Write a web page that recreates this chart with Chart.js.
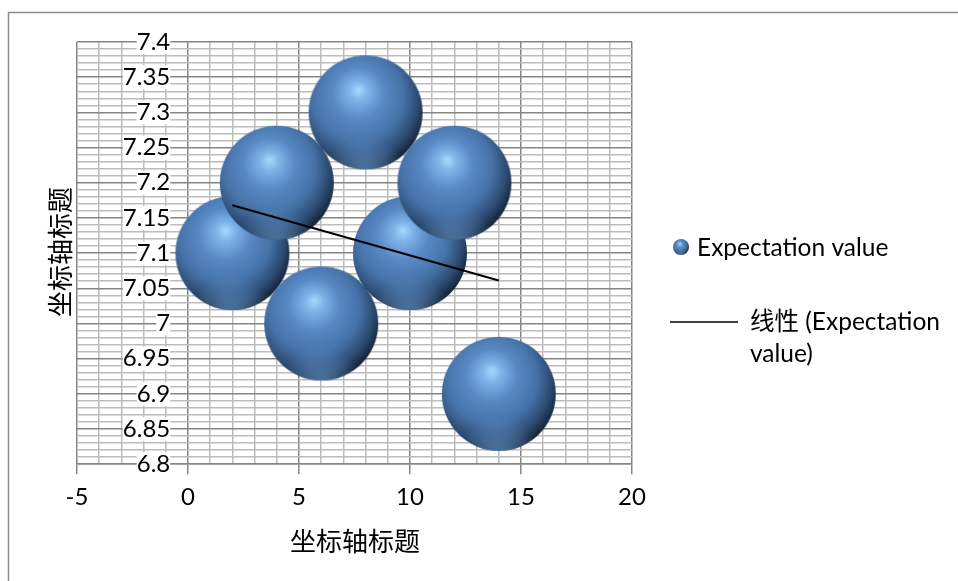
<!DOCTYPE html>
<html>
<head>
<meta charset="utf-8">
<script src="https://cdn.jsdelivr.net/npm/chart.js@4"></script>
<style>
  html, body { margin: 0; padding: 0; background: #fff; }
  #wrap { width: 958px; height: 581px; }
</style>
</head>
<body>
<div id="wrap"><canvas id="c" width="958" height="581"></canvas></div>
<script>
// Series data
const seriesName = 'Expectation value';
const trendLabel = ['线性 (Expectation', 'value)'];
const axisTitle = '坐标轴标题';
const xValues = [2, 4, 6, 8, 10, 12, 14];
const yValues = [7.1, 7.2, 7.0, 7.3, 7.1, 7.2, 6.9];
const bubbleSizes = [1, 1, 1, 1, 1, 1, 1];
// Linear trendline end points
const trendX = [2, 14];
const trendY = [7.168, 7.061];
// Axis tick labels (major ticks only)
const xTickLabels = ['-5', '0', '5', '10', '15', '20'];
const yTickLabels = ['6.8', '6.85', '6.9', '6.95', '7', '7.05', '7.1', '7.15', '7.2', '7.25', '7.3', '7.35', '7.4'];

const TEXT_FONT = "Lato, 'Noto Sans CJK SC', sans-serif";
const CJK_FONT = "'Noto Sans CJK SC', sans-serif";
const BUBBLE_R = 57;

// Big bubbles may overlap the plot edge; keep them from growing the layout padding
Chart.BubbleController.prototype.getMaxOverflow = function () { return 0; };

// Shaded sphere used as the bubble marker
function makeSphere(R) {
  const size = Math.ceil(R * 2 + 2);
  const cv = document.createElement('canvas');
  cv.width = cv.height = size;
  const g = cv.getContext('2d');
  const c = size / 2;
  g.beginPath();
  g.arc(c, c, R, 0, Math.PI * 2);
  g.closePath();
  const grad = g.createRadialGradient(c - 0.12 * R, c - 0.4 * R, 0, c - 0.15 * R, c - 0.2 * R, 1.3 * R);
  grad.addColorStop(0, '#a9dafd');
  grad.addColorStop(0.12, '#80b6ea');
  grad.addColorStop(0.35, '#5889c4');
  grad.addColorStop(0.62, '#4672a8');
  grad.addColorStop(0.82, '#2c4a70');
  grad.addColorStop(1, '#0d1825');
  g.fillStyle = grad;
  g.fill();
  // soft reflected light along the lower rim
  g.save();
  g.clip();
  const rim = g.createRadialGradient(c, c + 1.15 * R, 0.2 * R, c, c + 1.15 * R, 0.75 * R);
  rim.addColorStop(0, 'rgba(110,160,215,0.55)');
  rim.addColorStop(1, 'rgba(110,160,215,0)');
  g.fillStyle = rim;
  g.fillRect(0, 0, size, size);
  g.restore();
  return cv;
}

const sphere = makeSphere(BUBBLE_R);
const legendSphere = makeSphere(8);

const isMajorX = v => Math.abs(Math.round(v) % 5) === 0;
const yIndex = v => Math.round((v - 6.8) * 100);
const isMajorY = v => yIndex(v) % 5 === 0;

const bubbleData = xValues.map((x, i) => ({ x, y: yValues[i], r: bubbleSizes[i] * BUBBLE_R }));
const trendData = trendX.map((x, i) => ({ x, y: trendY[i] }));

// Frame, axis titles and legend
const decorations = {
  id: 'decorations',
  beforeDraw(chart) {
    const ctx = chart.ctx;
    ctx.save();
    ctx.fillStyle = '#ffffff';
    ctx.fillRect(0, 0, chart.width, chart.height);
    ctx.strokeStyle = '#8c8c8c';
    ctx.lineWidth = 1.5;
    ctx.strokeRect(8.5, 12.5, 1200, 1200);
    ctx.restore();
  },
  afterDraw(chart) {
    const ctx = chart.ctx;
    ctx.save();
    ctx.fillStyle = '#000';
    ctx.textBaseline = 'middle';
    // axis titles
    ctx.font = '26px ' + CJK_FONT;
    ctx.textAlign = 'center';
    ctx.fillText(axisTitle, 355, 541);
    ctx.save();
    ctx.translate(60, 252);
    ctx.rotate(-Math.PI / 2);
    ctx.fillText(axisTitle, 0, 0);
    ctx.restore();
    // legend
    ctx.textAlign = 'left';
    ctx.font = '24.5px ' + TEXT_FONT;
    ctx.drawImage(legendSphere, 681 - legendSphere.width / 2, 247 - legendSphere.height / 2);
    ctx.fillText(seriesName, 697, 248);
    ctx.strokeStyle = '#000';
    ctx.lineWidth = 1.5;
    ctx.beginPath();
    ctx.moveTo(670, 322);
    ctx.lineTo(738, 322);
    ctx.stroke();
    ctx.fillText(trendLabel[0], 750, 322);
    ctx.fillText(trendLabel[1], 750, 354);
    ctx.restore();
  }
};

new Chart(document.getElementById('c'), {
  data: {
    datasets: [
      {
        type: 'line',
        label: trendLabel.join(' '),
        data: trendData,
        borderColor: '#000',
        borderWidth: 2,
        pointRadius: 0,
        fill: false,
        order: 0
      },
      {
        type: 'bubble',
        label: seriesName,
        data: bubbleData,
        pointStyle: sphere,
        backgroundColor: '#4f81bd',
        borderWidth: 0,
        order: 1
      }
    ]
  },
  options: {
    responsive: false,
    animation: false,
    events: [],
    layout: { padding: { left: 77, right: 326, top: 42, bottom: 60 } },
    plugins: {
      legend: { display: false },
      tooltip: { enabled: false },
      title: { display: false }
    },
    scales: {
      x: {
        type: 'linear',
        position: 'bottom',
        min: -5,
        max: 20,
        grid: {
          color: c => isMajorX(c.tick.value) ? '#858585' : '#bcbcbc',
          lineWidth: 1.5,
          drawTicks: true,
          tickLength: 10,
          tickColor: c => isMajorX(c.tick.value) ? '#868686' : 'rgba(0,0,0,0)',
          tickWidth: 1.5
        },
        border: { display: true, color: '#868686', width: 1.5 },
        ticks: {
          stepSize: 1,
          autoSkip: false,
          maxRotation: 0,
          padding: 9,
          color: '#000',
          font: { family: TEXT_FONT, size: 24 },
          callback: v => isMajorX(v) ? xTickLabels[Math.round((v + 5) / 5)] : ''
        }
      },
      y: {
        type: 'linear',
        // labels sit just left of the x = 0 line
        position: { x: -0.8 },
        min: 6.8,
        max: 7.4,
        grid: {
          color: c => isMajorY(c.tick.value) ? '#858585' : '#bcbcbc',
          lineWidth: 1.5,
          drawTicks: false
        },
        border: { display: false },
        ticks: {
          stepSize: 0.01,
          autoSkip: false,
          padding: 0,
          color: '#000',
          font: { family: TEXT_FONT, size: 24, lineHeight: 1 },
          showLabelBackdrop: c => isMajorY(c.tick.value),
          backdropColor: '#ffffff',
          backdropPadding: 0,
          callback: v => isMajorY(v) ? yTickLabels[yIndex(v) / 5] : ''
        }
      }
    }
  },
  plugins: [decorations]
});
</script>
</body>
</html>
